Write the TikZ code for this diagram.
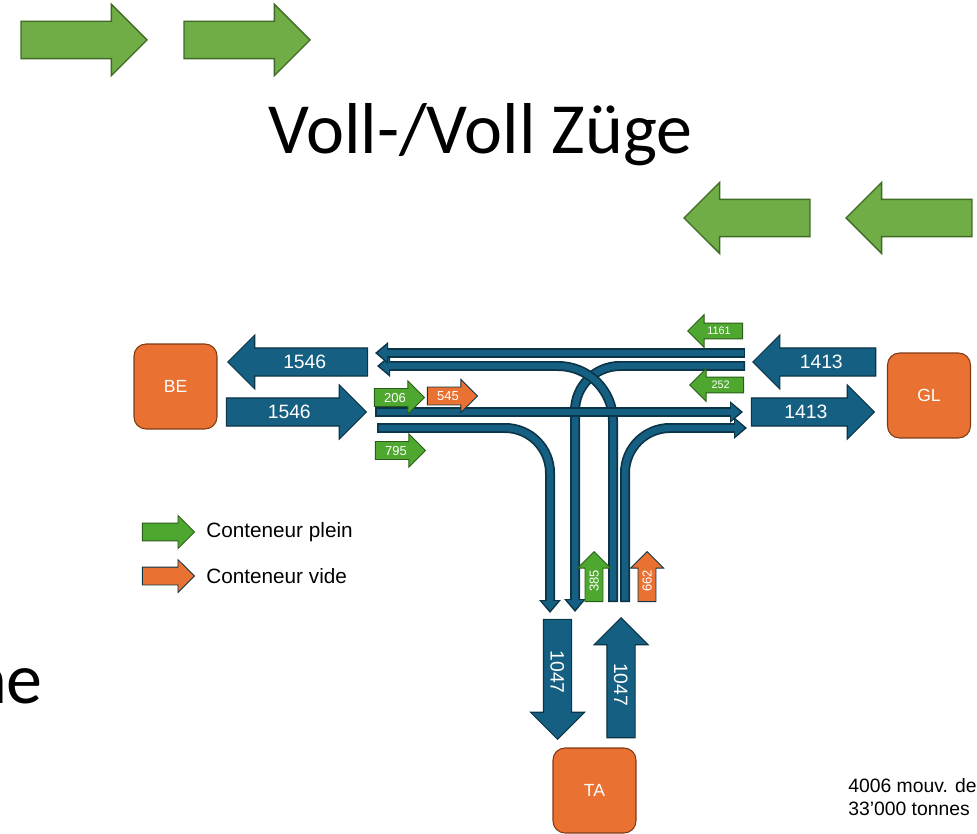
\documentclass[tikz,border=0pt]{standalone}
\usepackage{fontspec}
\setmainfont{Liberation Sans}
\newfontfamily\calibri{Carlito}
\usetikzlibrary{arrows.meta,shapes.arrows,positioning}

\definecolor{trackblue}{HTML}{156082}
\definecolor{trackdark}{HTML}{0C3447}
\definecolor{boxorange}{HTML}{E97132}
\definecolor{boxbrown}{HTML}{7F3A14}
\definecolor{fullgreen}{HTML}{4EA72E}
\definecolor{fulldark}{HTML}{2A5E18}
\definecolor{traingreen}{HTML}{70AD47}
\definecolor{traindark}{HTML}{3D6B24}

\tikzset{
  flux/.style={single arrow, draw=trackdark, fill=trackblue, text=white,
    line width=0.6pt, inner sep=0pt, text height=0.41cm, text depth=0.13cm,
    single arrow tip angle=90, single arrow head extend=0.26cm,
    minimum height=2.8cm, minimum width=1.06cm,
    font=\fontsize{11}{13}\selectfont},
  plein/.style={single arrow, draw=fulldark, fill=fullgreen, text=white,
    line width=0.5pt, inner sep=0pt, text height=0.264cm, text depth=0.077cm,
    single arrow tip angle=90, single arrow head extend=0.15cm,
    minimum height=1cm, minimum width=0.64cm,
    font=\fontsize{7.4}{8}\selectfont},
  petit/.style={text height=0.23cm, text depth=0.07cm,
    single arrow head extend=0.17cm, font=\fontsize{6.2}{7}\selectfont},
  vide/.style={plein, draw=trackdark, fill=boxorange},
  zug/.style={single arrow, draw=traindark, fill=traingreen, line width=0.8pt,
    inner sep=0pt, text height=0.72cm, text depth=0cm,
    single arrow tip angle=90, single arrow head extend=0.34cm,
    minimum height=2.52cm, minimum width=1.4cm},
  depot/.style={rectangle, rounded corners=0.24cm, draw=boxbrown, fill=boxorange,
    text=white, line width=0.6pt, minimum width=1.66cm, minimum height=1.7cm,
    font=\fontsize{10}{12}\selectfont},
  legende/.style={font=\fontsize{11.8}{14}\selectfont, inner sep=0pt},
  trackout/.style={draw=trackdark, line width=0.2cm,
    -{Triangle[length=0.26cm,width=0.42cm]}},
  trackin/.style={draw=trackblue, line width=0.13cm, shorten <=0.03cm,
    shorten >=0.05cm, -{Triangle[length=0.19cm,width=0.32cm]}},
}
\newcommand{\voie}[2][]{\draw[trackout,#1] #2; \draw[trackin,#1] #2;}

\begin{document}
\begin{tikzpicture}[x=0.02cm,y=-0.02cm]
  \clip (0,0) rectangle (977,834);
  % trains
  \node[zug, anchor=tip] (zug1) at (148,40) {};
  \node[zug, anchor=tip] (zug2) at (311,40) {};
  \node[zug, shape border rotate=180, anchor=tip] (zug3) at (683,218) {};
  \node[zug, shape border rotate=180, anchor=tip] (zug4) at (845,218) {};
  \node[anchor=base, font=\calibri\fontsize{41}{48}\selectfont] (title) at (480.5,154) {Voll-/Voll Züge};
  \node[anchor=base east, font=\calibri\fontsize{41}{48}\selectfont] (rest) at (49,703) {ne};

  % terminals
  \node[depot] (be) at (175.5,386.5) {BE};
  \node[depot] (gl) at (929,395.5) {GL};
  \node[depot] (ta) at (594.5,790.5) {TA};

  % tracks
  \voie[rounded corners=0.9cm]{(745,366) -| (575,612)}
  \voie[rounded corners=1.1cm]{(613,602) |- (377,366)}
  \voie[rounded corners=0.9cm]{(377,428) -| (550,613)}
  \voie[rounded corners=0.9cm]{(625,602) |- (747,428)}
  \voie{(375,412) -- (743,412)}
  \voie{(745,353) -- (375,353)}

  % flows
  \node[flux, shape border rotate=180, anchor=tip] (beout) at (227,362) {1546};
  \node[flux, anchor=tip] (bein) at (367,412) {1546};
  \node[flux, shape border rotate=180, minimum height=2.46cm, anchor=tip] (glin) at (752,362) {1413};
  \node[flux, minimum height=2.46cm, anchor=tip] (glout) at (875,412) {1413};
  \node[flux, rotate=-90, minimum height=2.4cm, anchor=tip] (tain) at (557.5,740) {1047};
  \node[flux, rotate=-90, shape border rotate=180, minimum height=2.4cm, anchor=tip] (taout) at (621,617) {1047};

  % containers
  \node[plein, anchor=tip] (p206) at (425,397.5) {206};
  \node[vide, anchor=tip] (v545) at (478,396) {545};
  \node[plein, anchor=tip] (p795) at (426,450.5) {795};
  \node[plein, petit, shape border rotate=180, minimum height=1.1cm, anchor=tip] (p1161) at (687,331) {1161};
  \node[plein, petit, shape border rotate=180, minimum height=1.08cm, anchor=tip] (p252) at (689,385) {252};
  \node[plein, rotate=90, anchor=tip] (p385) at (594,551) {385};
  \node[vide, rotate=90, anchor=tip] (v662) at (647,551) {662};

  % legend
  \node[plein, text height=0.34cm, text depth=0cm, minimum height=1.04cm, anchor=tip] (legplein) at (195,532) {};
  \node[vide, text height=0.34cm, text depth=0cm, minimum height=1.04cm, anchor=tip] (legvide) at (195,576) {};
  \node[legende, right=0.22cm of legplein] (txtplein) {Conteneur plein};
  \node[legende, right=0.22cm of legvide] (txtvide) {Conteneur vide};

  % note
  \node[anchor=base west, font=\fontsize{11}{13}\selectfont, inner sep=0pt] (note1) at (848,792) {4006 mouv. de};
  \node[anchor=base west, font=\fontsize{11}{13}\selectfont, inner sep=0pt] (note2) at (848,815) {33’000 tonnes};
\end{tikzpicture}
\end{document}
